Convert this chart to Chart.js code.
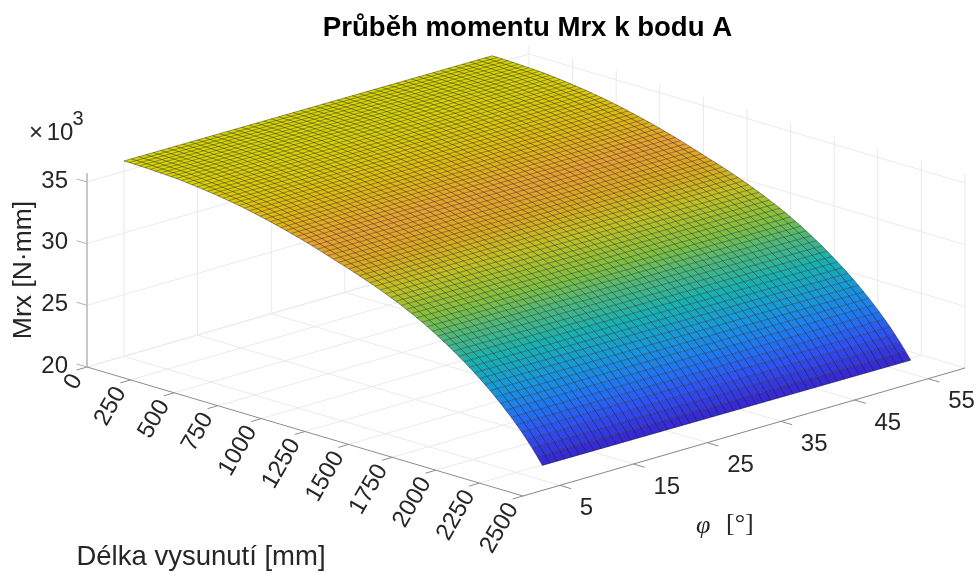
<!DOCTYPE html>
<html>
<head>
<meta charset="utf-8">
<style>
  html, body { margin: 0; padding: 0; background: #fff; }
  canvas { display: block; }
</style>
<script src="https://cdn.jsdelivr.net/npm/chart.js@4/dist/chart.umd.js"></script>
</head>
<body>
<canvas id="surfaceChart" width="977" height="572"></canvas>
<script>
const lengthTicks = [0, 250, 500, 750, 1000, 1250, 1500, 1750, 2000, 2250, 2500];
const phiTicks = [5, 15, 25, 35, 45, 55];
const mrxTicks = [20, 25, 30, 35];

// mesh rows every 30 mm, columns every 1 degree
const lengths = [
  0, 30, 60, 90, 120, 150, 180, 210, 240, 270,
  300, 330, 360, 390, 420, 450, 480, 510, 540, 570,
  600, 630, 660, 690, 720, 750, 780, 810, 840, 870,
  900, 930, 960, 990, 1020, 1050, 1080, 1110, 1140, 1170,
  1200, 1230, 1260, 1290, 1320, 1350, 1380, 1410, 1440, 1470,
  1500, 1530, 1560, 1590, 1620, 1650, 1680, 1710, 1740, 1770,
  1800, 1830, 1860, 1890, 1920, 1950, 1980, 2010, 2040, 2070,
  2100, 2130, 2160, 2190, 2220, 2250, 2280, 2310, 2340, 2370,
  2400,
];
const angles = [
  5, 6, 7, 8, 9, 10, 11, 12, 13, 14, 15, 16, 17, 18, 19, 20, 21,
  22, 23, 24, 25, 26, 27, 28, 29, 30, 31, 32, 33, 34, 35, 36, 37, 38,
  39, 40, 41, 42, 43, 44, 45, 46, 47, 48, 49, 50, 51, 52, 53, 54, 55,
];

// Mrx in thousands of N·mm, read along the two long edges of the surface
const mrxAt55 = [
  35.72, 35.72, 35.71, 35.70, 35.69, 35.67, 35.65, 35.63, 35.61, 35.59,
  35.56, 35.52, 35.48, 35.43, 35.38, 35.33, 35.27, 35.22, 35.16, 35.09,
  35.02, 34.95, 34.87, 34.79, 34.70, 34.61, 34.51, 34.41, 34.31, 34.20,
  34.09, 33.98, 33.86, 33.74, 33.62, 33.49, 33.36, 33.22, 33.08, 32.94,
  32.79, 32.65, 32.51, 32.37, 32.22, 32.07, 31.91, 31.75, 31.59, 31.42,
  31.24, 31.06, 30.87, 30.67, 30.47, 30.26, 30.04, 29.81, 29.57, 29.32,
  29.06, 28.79, 28.51, 28.22, 27.92, 27.61, 27.29, 26.96, 26.62, 26.26,
  25.89, 25.50, 25.10, 24.68, 24.24, 23.78, 23.30, 22.79, 22.25, 21.68,
  21.08,
];
const mrxAt5 = [
  35.84, 35.84, 35.83, 35.82, 35.81, 35.79, 35.77, 35.75, 35.73, 35.71,
  35.68, 35.64, 35.60, 35.55, 35.50, 35.45, 35.39, 35.34, 35.28, 35.21,
  35.14, 35.07, 34.99, 34.91, 34.82, 34.73, 34.63, 34.53, 34.43, 34.32,
  34.21, 34.10, 33.98, 33.86, 33.74, 33.61, 33.48, 33.34, 33.20, 33.06,
  32.91, 32.77, 32.63, 32.49, 32.34, 32.19, 32.03, 31.87, 31.71, 31.54,
  31.36, 31.18, 30.99, 30.79, 30.59, 30.38, 30.16, 29.93, 29.69, 29.44,
  29.18, 28.91, 28.63, 28.34, 28.04, 27.73, 27.41, 27.08, 26.74, 26.38,
  26.01, 25.62, 25.22, 24.80, 24.36, 23.90, 23.42, 22.91, 22.37, 21.80,
  21.20,
];

// colour of the surface against Mrx
const colorLevels = [21, 23, 24.5, 26, 27.5, 29, 30, 31.5, 32.5, 33.5, 34.5, 35.8];
const colorValues = [
  [56, 32, 200], [48, 80, 240], [32, 120, 240], [24, 152, 216], [24, 176, 176], [80, 184, 120],
  [128, 192, 64], [196, 192, 32], [220, 168, 32], [232, 160, 48], [224, 184, 16], [216, 216, 0],
];

const titleBottom = 44.6;
const titleLeft = 78;

const project = (len, phi, mrx) => ({
  x: 87 + len * (436 / 2500) + phi * (442 / 60),
  y: 367 + len * (129 / 2500) - phi * (128 / 60) - (mrx - 20) * (185 / 15),
});

const colorFor = (mrx) => {
  let i = colorLevels.findIndex((level) => level >= mrx);
  if (i <= 0) i = 1;
  const t = Math.min(1, Math.max(0, (mrx - colorLevels[i - 1]) / (colorLevels[i] - colorLevels[i - 1])));
  const rgb = colorValues[i].map((c, k) => Math.round(colorValues[i - 1][k] + (c - colorValues[i - 1][k]) * t));
  return `rgb(${rgb.join(',')})`;
};

const mrxAtAngle = (row, phi) => mrxAt5[row] + (mrxAt55[row] - mrxAt5[row]) * (phi - 5) / 50;

const line = (points, color, width) => ({
  data: points,
  showLine: true,
  pointRadius: 0,
  borderColor: color,
  borderWidth: width,
  fill: false,
  clip: false,
});

const gridColor = '#e9e9e9';
const axisColor = '#8c8c8c';
const meshColor = 'rgba(20,20,20,0.62)';
const lastMrx = 35.73;

const buildDatasets = () => {
  const sets = [];

  // floor and back walls
  lengthTicks.forEach((len) => {
    sets.push(line([project(len, 0, 20), project(len, 60, 20), project(len, 60, lastMrx)], gridColor, 1));
  });
  phiTicks.forEach((phi) => {
    sets.push(line([project(2500, phi, 20), project(0, phi, 20), project(0, phi, lastMrx)], gridColor, 1));
  });
  mrxTicks.forEach((mrx) => {
    sets.push(line([project(0, 0, mrx), project(0, 60, mrx), project(2500, 60, mrx)], gridColor, 1));
  });

  // axes with their ticks
  sets.push(line([project(0, 0, 20), project(0, 0, lastMrx)], '#b4b4b4', 1.5));
  sets.push(line([project(0, 0, 20), project(2500, 0, 20), project(2500, 60, 20)], axisColor, 1));
  lengthTicks.forEach((len) => {
    sets.push(line([project(len, 0, 20), project(len, -1.4, 20)], axisColor, 1));
  });
  phiTicks.forEach((phi) => {
    sets.push(line([project(2500, phi, 20), project(2565, phi, 20)], axisColor, 1));
  });
  mrxTicks.forEach((mrx) => {
    sets.push(line([project(0, 0, mrx), project(-60, 0, mrx)], '#b4b4b4', 1));
  });

  // surface strips, back to front
  lengths.slice(0, -1).forEach((len, r) => {
    const next = lengths[r + 1];
    sets.push({
      data: [
        project(len, 5, mrxAt5[r]),
        project(len, 55, mrxAt55[r]),
        project(next, 55, mrxAt55[r + 1]),
        project(next, 5, mrxAt5[r + 1]),
        project(len, 5, mrxAt5[r]),
      ],
      showLine: true,
      pointRadius: 0,
      borderWidth: 0,
      fill: 'shape',
      backgroundColor: colorFor((mrxAt5[r] + mrxAt55[r + 1]) / 2),
      clip: false,
    });
  });

  // mesh
  lengths.forEach((len, r) => {
    sets.push(line([project(len, 5, mrxAt5[r]), project(len, 55, mrxAt55[r])], meshColor, 0.7));
  });
  angles.forEach((phi) => {
    sets.push(line(lengths.map((len, r) => project(len, phi, mrxAtAngle(r, phi))), meshColor, 0.7));
  });

  // first dataset is painted last
  return sets.reverse();
};

const axisText = {
  id: 'axisText',
  afterDraw(chart) {
    const { ctx, scales } = chart;
    const place = (p) => ({ x: scales.x.getPixelForValue(p.x), y: scales.y.getPixelForValue(p.y) });
    const label = (text, x, y, size, align, angle) => {
      ctx.save();
      ctx.translate(x, y);
      ctx.rotate(angle || 0);
      ctx.font = `${size}px "Liberation Sans"`;
      ctx.fillStyle = '#262626';
      ctx.textAlign = align;
      ctx.textBaseline = 'middle';
      ctx.fillText(text, 0, 0);
      ctx.restore();
    };

    lengthTicks.forEach((len) => {
      const p = place(project(len, 0, 20));
      label(String(len), p.x - 10, p.y + 9, 24, 'right', -Math.PI / 3);
    });
    phiTicks.forEach((phi) => {
      const p = place(project(2500, phi, 20));
      label(String(phi), p.x + 20, p.y + 23, 24, 'left');
    });
    mrxTicks.forEach((mrx) => {
      const p = place(project(0, 0, mrx));
      label(String(mrx), p.x - 19, p.y - 1, 24, 'right');
    });

    label('Mrx [N·mm]', 24, 270, 26.5, 'center', -Math.PI / 2);
    label('Délka vysunutí [mm]', 201, 557, 27.5, 'center');

    label('×', 36, 133, 24, 'center');
    label('10', 60, 133, 24, 'center');
    label('3', 78, 119, 20, 'center');

    ctx.save();
    ctx.fillStyle = '#262626';
    ctx.textBaseline = 'middle';
    ctx.textAlign = 'left';
    ctx.font = 'italic 26px "Liberation Serif"';
    ctx.fillText('φ', 696, 526);
    ctx.font = '26px "Liberation Serif"';
    ctx.fillText('[°]', 726, 524);
    ctx.restore();
  },
};

const createSurfaceChart = () => {
  const canvas = document.getElementById('surfaceChart');
  new Chart(canvas, {
    type: 'scatter',
    data: { datasets: buildDatasets() },
    plugins: [axisText],
    options: {
      responsive: false,
      animation: false,
      events: [],
      layout: { padding: { left: titleLeft } },
      scales: {
        x: { type: 'linear', display: false, min: titleLeft, max: 977 },
        y: { type: 'linear', display: false, min: titleBottom, max: 572, reverse: true },
      },
      plugins: {
        legend: { display: false },
        tooltip: { enabled: false },
        title: {
          display: true,
          text: 'Průběh momentu Mrx k bodu A',
          fullSize: false,
          color: '#000',
          font: { family: '"Liberation Sans"', size: 27.6, weight: 'bold' },
          padding: { top: 11.5, bottom: 0 },
        },
      },
    },
  });
};

createSurfaceChart();
</script>
</body>
</html>
